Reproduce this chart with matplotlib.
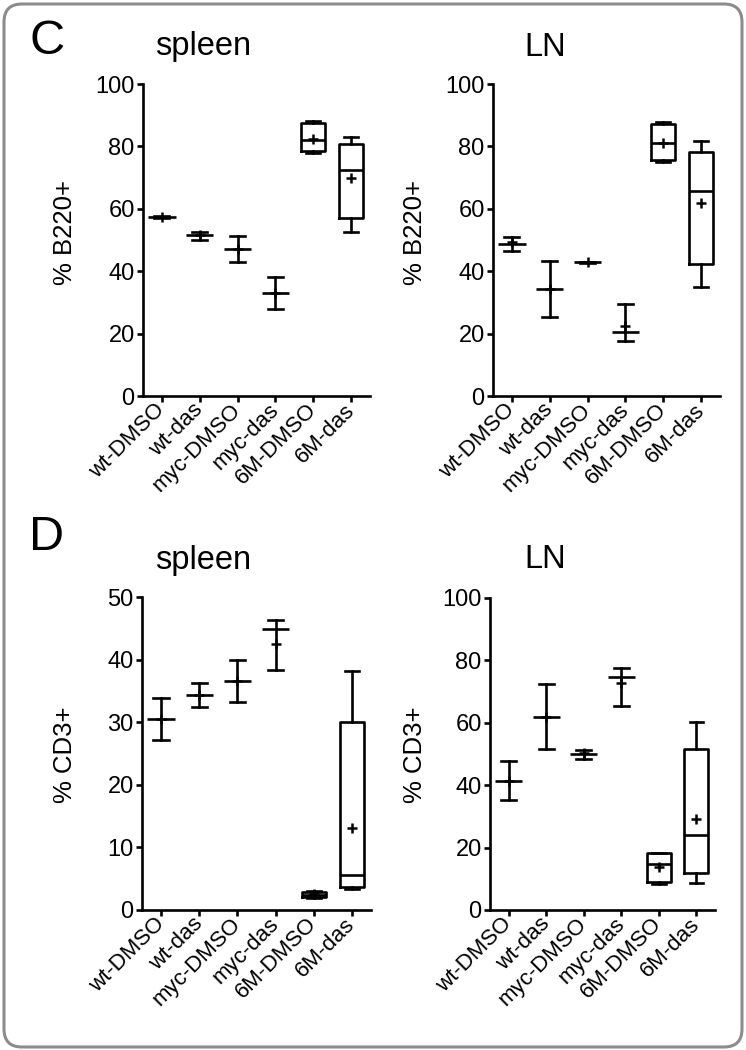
import matplotlib
matplotlib.use('Agg')
import matplotlib.pyplot as plt
from matplotlib.patches import FancyBboxPatch
from matplotlib.transforms import IdentityTransform

plt.rcParams['font.family'] = ['Liberation Sans', 'DejaVu Sans']

groups = ['wt-DMSO', 'wt-das', 'myc-DMSO', 'myc-das', '6M-DMSO', '6M-das']
boxed = [False, False, False, False, True, True]

# Panel C, spleen, % B220+
c_spleen_min = [57.2, 50.1, 42.8, 28.0, 77.9, 52.7]
c_spleen_q1 = [57.5, 51.5, 47.0, 32.9, 78.5, 57.2]
c_spleen_med = [57.5, 51.5, 47.0, 32.9, 81.9, 72.4]
c_spleen_q3 = [57.5, 51.5, 47.0, 32.9, 87.4, 80.7]
c_spleen_max = [57.8, 52.6, 51.3, 38.0, 88.2, 83.0]
c_spleen_mean = [57.5, 51.5, 47.0, 33.0, 82.4, 70.0]

# Panel C, LN, % B220+
c_ln_min = [46.5, 25.4, 42.7, 17.7, 75.1, 34.9]
c_ln_q1 = [48.8, 34.4, 42.9, 20.4, 75.6, 42.3]
c_ln_med = [48.8, 34.4, 42.9, 20.4, 81.2, 65.7]
c_ln_q3 = [48.8, 34.4, 42.9, 20.4, 87.2, 78.3]
c_ln_max = [51.0, 43.4, 43.1, 29.6, 87.7, 81.8]
c_ln_mean = [49.2, 34.4, 43.0, 22.5, 81.2, 61.9]

# Panel D, spleen, % CD3+
d_spleen_min = [27.2, 32.5, 33.3, 38.4, 1.9, 3.4]
d_spleen_q1 = [30.5, 34.4, 36.6, 44.9, 2.0, 3.7]
d_spleen_med = [30.5, 34.4, 36.6, 44.9, 2.4, 5.6]
d_spleen_q3 = [30.5, 34.4, 36.6, 44.9, 2.9, 30.1]
d_spleen_max = [33.8, 36.2, 39.9, 46.4, 3.1, 38.1]
d_spleen_mean = [30.5, 34.4, 36.6, 42.5, 2.6, 13.1]

# Panel D, LN, % CD3+
d_ln_min = [35.1, 51.7, 48.4, 65.3, 8.3, 8.6]
d_ln_q1 = [41.4, 62.0, 50.1, 74.7, 9.0, 12.0]
d_ln_med = [41.4, 62.0, 50.1, 74.7, 14.7, 24.0]
d_ln_q3 = [41.4, 62.0, 50.1, 74.7, 18.2, 51.6]
d_ln_max = [47.6, 72.4, 51.3, 77.6, 18.4, 60.2]
d_ln_mean = [41.4, 62.0, 50.4, 72.7, 13.9, 29.2]

W, H = 746, 1050
fig = plt.figure(figsize=(W / 100, H / 100), dpi=100)
LW = 1.9


def px_axes(left, top, right, bottom):
    return fig.add_axes([left / W, 1 - bottom / H, (right - left) / W, (bottom - top) / H])


def draw(ax, mn, q1, med, q3, mx, mean, ymax, ystep):
    stats = [dict(whislo=a, q1=b, med=c, q3=d, whishi=e, mean=f)
             for a, b, c, d, e, f in zip(mn, q1, med, q3, mx, mean)]
    common = dict(showmeans=True, showfliers=False, manage_ticks=False,
                  meanprops=dict(marker='+', color='black', markeredgecolor='black',
                                 markersize=6.5, markeredgewidth=1.8),
                  medianprops=dict(color='black', lw=LW),
                  whiskerprops=dict(color='black', lw=LW),
                  capprops=dict(color='black', lw=LW),
                  boxprops=dict(color='black', lw=LW))
    plain = [i for i in range(len(groups)) if not boxed[i]]
    box = [i for i in range(len(groups)) if boxed[i]]
    ax.bxp([stats[i] for i in plain], positions=plain, widths=0.72,
           showbox=False, capwidths=0.4, **common)
    ax.bxp([stats[i] for i in box], positions=box, widths=0.64,
           capwidths=0.36, **common)
    ax.set_xlim(-0.5, len(groups) - 0.5)
    ax.set_ylim(0, ymax)
    ax.set_yticks(range(0, ymax + 1, ystep))
    ax.set_xticks(range(len(groups)))
    ax.set_xticklabels(groups, rotation=45, ha='right', va='center',
                       rotation_mode='anchor', fontsize=16)
    ax.tick_params(axis='y', labelsize=17, length=4, width=LW, pad=2)
    ax.tick_params(axis='x', length=4, width=LW, pad=4)
    for s in ['top', 'right']:
        ax.spines[s].set_visible(False)
    for s in ['left', 'bottom']:
        ax.spines[s].set_linewidth(LW)
    ax.patch.set_alpha(0)


ax1 = px_axes(143, 84, 370, 396)
draw(ax1, c_spleen_min, c_spleen_q1, c_spleen_med, c_spleen_q3, c_spleen_max, c_spleen_mean, 100, 20)
ax2 = px_axes(493, 84, 720, 396)
draw(ax2, c_ln_min, c_ln_q1, c_ln_med, c_ln_q3, c_ln_max, c_ln_mean, 100, 20)
ax3 = px_axes(142, 597, 371, 910)
draw(ax3, d_spleen_min, d_spleen_q1, d_spleen_med, d_spleen_q3, d_spleen_max, d_spleen_mean, 50, 10)
ax4 = px_axes(490, 598, 715, 910)
draw(ax4, d_ln_min, d_ln_q1, d_ln_med, d_ln_q3, d_ln_max, d_ln_mean, 100, 20)


def ftext(x, y, s, **kw):
    fig.text(x / W, 1 - y / H, s, ha='center', va='center', **kw)


ftext(47, 41, 'C', fontsize=35)
ftext(47, 537, 'D', fontsize=35)
ftext(203, 47, 'spleen', fontsize=23.5)
ftext(545, 47, 'LN', fontsize=23.5)
ftext(203, 560, 'spleen', fontsize=23.5)
ftext(545, 560, 'LN', fontsize=23.5)
ftext(65, 232, '% B220+', fontsize=18.5, rotation=90)
ftext(415, 232, '% B220+', fontsize=18.5, rotation=90)
ftext(65, 755, '% CD3+', fontsize=18.5, rotation=90)
ftext(415, 755, '% CD3+', fontsize=18.5, rotation=90)

border = FancyBboxPatch((4, 3), 738, 1043, boxstyle='round,pad=0,rounding_size=18',
                        transform=IdentityTransform(), fill=False,
                        ec='#8c8c8c', lw=2.2)
fig.add_artist(border)

fig.savefig('out.png', dpi=100)
